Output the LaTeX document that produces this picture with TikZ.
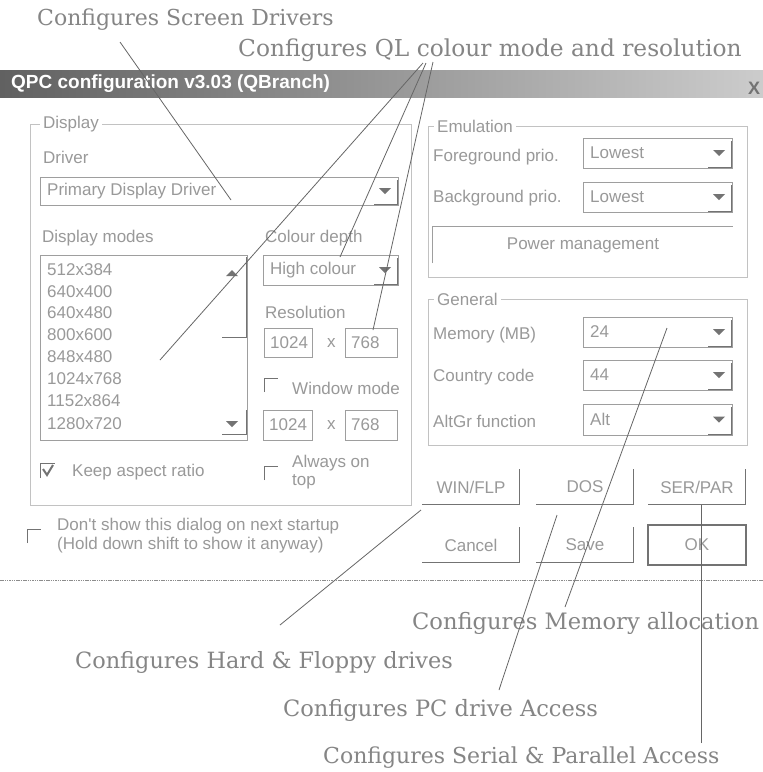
\documentclass[tikz,border=0pt]{standalone}
\usepackage{fontspec}
\setmainfont{DejaVu Serif}
\newfontfamily\dlgfont{Liberation Sans}
\usetikzlibrary{calc}

\definecolor{dlgtext}{gray}{0.60}
\definecolor{notetext}{gray}{0.52}
\definecolor{noteline}{gray}{0.40}
\definecolor{frameline}{gray}{0.62}
\definecolor{groupline}{gray}{0.76}
\definecolor{edgedark}{gray}{0.45}

% drop-down box: name, x1, y1, x2, y2, text
\newcommand\dlgcombo[6]{%
  \draw[field] (#2,#3) rectangle (#4,#5);
  \node[lbl] (#1) at (#2+7,{(#3+#5)/2}) {#6};
  \draw[edge] (#4-1,#3+3) -- (#4-1,#5-1) -- (#4-24,#5-1);
  \fill[tri] (#4-19,{(#3+#5)/2-3}) -- (#4-7,{(#3+#5)/2-3}) -- (#4-13,{(#3+#5)/2+3}) -- cycle;
}
% edit field: name, x1, y1, x2, y2, text
\newcommand\dlgedit[6]{%
  \draw[field] (#2,#3) rectangle (#4,#5);
  \node[lbl] (#1) at (#2+6,{(#3+#5)/2}) {#6};
}
% unticked check box (sunken corner): x, y of top-left corner
\newcommand\dlgcheck[2]{%
  \draw[edge] (#1,#2+14) -- (#1,#2) -- (#1+14,#2);
}

\begin{document}
\begin{tikzpicture}[x=1pt,y=-1pt,
  note/.style={font=\fontsize{22}{26}\selectfont, text=notetext, inner sep=0, anchor=west},
  noteline/.style={draw=noteline, line width=0.8pt},
  lbl/.style={font=\dlgfont\fontsize{17}{20}\selectfont, text=dlgtext, inner sep=0, anchor=west},
  btn/.style={font=\dlgfont\fontsize{17}{20}\selectfont, text=dlgtext, inner sep=0, minimum width=97, minimum height=35},
  field/.style={draw=frameline, line width=0.7pt},
  group/.style={draw=groupline, line width=0.7pt},
  edge/.style={draw=edgedark, line width=1pt},
  tri/.style={fill=black!55},
  grouplabel/.style={lbl, fill=white, inner xsep=3pt, inner ysep=1pt}]

\useasboundingbox (0,0) rectangle (763,772);
\fill[white] (0,0) rectangle (763,772);

% ---------- title bar ----------
\shade[left color=black!62, right color=black!20] (0,70) rectangle (763,97);
\node[anchor=west, inner sep=0, font=\dlgfont\bfseries\fontsize{19}{22}\selectfont, text=white]
  (title) at (11,84) {QPC configuration v3.03 (QBranch)};
\node[inner sep=0, font=\dlgfont\bfseries\fontsize{18}{20}\selectfont, text=black!55] (close) at (754,88) {X};

% ---------- group frames ----------
\draw[group] (30,124) rectangle (411,505);
\draw[group] (428,126) rectangle (747,277);
\draw[group] (428,299) rectangle (747,445);
\node[grouplabel] (gdisplay) at (40,124) {Display};
\node[grouplabel] (gemul) at (434,126) {Emulation};
\node[grouplabel] (ggeneral) at (434,299) {General};

% ---------- display group ----------
\node[lbl] (ldriver) at (43,157) {Driver};
\dlgcombo{cdriver}{40}{177}{398}{205}{Primary Display Driver}

\node[lbl] (lmodes) at (42,238) {Display modes};
\draw[field] (40,255) rectangle (247,440);
\node[lbl] (item1) at (47,270) {512x384};
\node[lbl] (item2) at (47,292) {640x400};
\node[lbl] (item3) at (47,313) {640x480};
\node[lbl] (item4) at (47,335) {800x600};
\node[lbl] (item5) at (47,357) {848x480};
\node[lbl] (item6) at (47,379) {1024x768};
\node[lbl] (item7) at (47,401) {1152x864};
\node[lbl] (item8) at (47,424) {1280x720};
\draw[edge] (246,257) -- (246,337) -- (222,337);
\fill[tri] (226,276) -- (238,276) -- (232,270) -- cycle;
\draw[edge] (246,410) -- (246,434) -- (222,434);
\fill[tri] (226,421) -- (238,421) -- (232,427) -- cycle;

\node[lbl] (ldepth) at (265,238) {Colour depth};
\dlgcombo{cdepth}{263}{255}{398}{285}{High colour}

\node[lbl] (lres) at (265,312) {Resolution};
\dlgedit{eresw}{264}{328}{312}{357}{1024}
\node[lbl] (xres) at (327,343) {x};
\dlgedit{eresh}{345}{328}{397}{357}{768}

\dlgcheck{264}{378}
\node[lbl] (lwin) at (292,388) {Window mode};
\dlgedit{ewinw}{263}{410}{312}{440}{1024}
\node[lbl] (xwin) at (327,425) {x};
\dlgedit{ewinh}{345}{410}{397}{440}{768}

\draw[edge] (40,478) -- (40,463) -- (55,463);
\draw[black!55, line width=2pt] (43,469) -- (47,475) -- (53,465);
\node[lbl] (laspect) at (72,472) {Keep aspect ratio};
\dlgcheck{264}{466}
\node[lbl, align=left, font=\dlgfont\fontsize{17}{18}\selectfont] (ltop) at (292,472) {Always on\\top};

\dlgcheck{27}{529}
\node[lbl, align=left, font=\dlgfont\fontsize{17}{19}\selectfont] (lstartup) at (57,536)
  {Don't show this dialog on next startup\\(Hold down shift to show it anyway)};

% ---------- emulation group ----------
\node[lbl] (lfore) at (433,157) {Foreground prio.};
\dlgcombo{cfore}{583}{138}{732}{168}{Lowest}
\node[lbl] (lback) at (433,198) {Background prio.};
\dlgcombo{cback}{583}{182}{732}{212}{Lowest}
\node[btn, minimum width=300, minimum height=36] (bpower) at (583,245) {Power management};
\draw[field] (bpower.south west) -- (bpower.north west) -- (bpower.north east);

% ---------- general group ----------
\node[lbl] (lmem) at (433,335) {Memory (MB)};
\dlgcombo{cmem}{583}{317}{732}{347}{24}
\node[lbl] (lcountry) at (433,377) {Country code};
\dlgcombo{ccountry}{583}{360}{732}{390}{44}
\node[lbl] (laltgr) at (433,421) {AltGr function};
\dlgcombo{caltgr}{583}{404}{732}{435}{Alt}

% ---------- buttons ----------
\node[btn] (bwin) at (471,487) {WIN/FLP};
\node[btn] (bdos) at (585,487) {DOS};
\node[btn] (bser) at (697,487) {SER/PAR};
\node[btn] (bcancel) at (471,545) {Cancel};
\node[btn] (bsave) at (585,545) {Save};
\node[btn, minimum width=98, minimum height=40] (bok) at (697,545) {OK};
\foreach \b in {bwin,bdos,bser,bcancel,bsave}
  \draw[edge] (\b.north east) -- (\b.south east) -- (\b.south west);
\draw[black!55, line width=1.6pt] (bok.south west) rectangle (bok.north east);

% dialog bottom edge
\draw[black!45, line width=0.9pt, dash pattern=on 1.5pt off 0.8pt] (0,580) -- (763,580);

% ---------- annotations ----------
\node[note] (nscreen) at (37,20) {Configures Screen Drivers};
\node[note, font=\fontsize{23.3}{26}\selectfont] (ncolour) at (238,50) {Configures QL colour mode and resolution};
\node[note, font=\fontsize{22.6}{26}\selectfont] (nmemory) at (412,623) {Configures Memory allocation};
\node[note, font=\fontsize{22.4}{26}\selectfont] (nhard) at (75,662) {Configures Hard \& Floppy drives};
\node[note, font=\fontsize{22.5}{26}\selectfont] (npc) at (283,710) {Configures PC drive Access};
\node[note] (nserial) at (323,758) {Configures Serial \& Parallel Access};

\coordinate (sscreen) at (120,42);
\coordinate (tscreen) at (231,200);
\coordinate (scola) at (423,63);
\coordinate (scolb) at (426,63);
\coordinate (scolc) at (433,62);
\coordinate (tmodes) at (160,360);
\coordinate (tdepth) at (340,257);
\coordinate (tres) at (373,330);
\coordinate (smem) at (565,607);
\coordinate (tmem) at (667,328);
\coordinate (shard) at (280,625);
\coordinate (thard) at (421,510);
\coordinate (spc) at (499,690);
\coordinate (tpc) at (557,515);
\coordinate (sser) at (701,743);
\coordinate (tser) at (701,505);

\draw[noteline] (sscreen) -- (tscreen);
\draw[noteline] (scola) -- (tmodes);
\draw[noteline] (scolb) -- (tdepth);
\draw[noteline] (scolc) -- (tres);
\draw[noteline] (smem) -- (tmem);
\draw[noteline] (shard) -- (thard);
\draw[noteline] (spc) -- (tpc);
\draw[noteline] (sser) -- (tser);
\end{tikzpicture}
\end{document}
